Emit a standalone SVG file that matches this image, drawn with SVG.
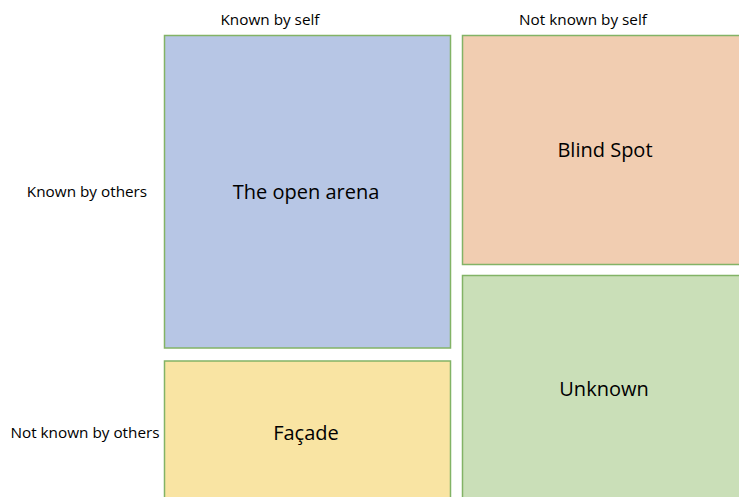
<svg xmlns="http://www.w3.org/2000/svg" width="739" height="497" viewBox="0 0 739 497">
<style>
.q{stroke:#82b366;stroke-width:1.5}
.h{font-family:"Open Sans","Liberation Sans",Arial,sans-serif;font-size:15.3px;fill:#000;text-anchor:middle;dominant-baseline:central}
.t{font-family:"Open Sans","Liberation Sans",Arial,sans-serif;font-size:20px;fill:#000;text-anchor:middle;dominant-baseline:central}
</style>
<rect width="739" height="497" fill="#fff"/>
<g id="labels">
<text class="h" x="270" y="19">Known by self</text>
<text class="h" x="583" y="19">Not known by self</text>
<text class="h" x="87" y="191">Known by others</text>
<text class="h" x="85" y="432">Not known by others</text>
</g>
<g id="open-arena">
<rect class="q" x="164.5" y="35.5" width="286" height="312.5" fill="#b7c6e5"/>
<text class="t" x="306" y="191">The open arena</text>
</g>
<g id="blind-spot">
<rect class="q" x="462.5" y="35.5" width="280" height="229" fill="#f1cdb1"/>
<text class="t" x="605" y="149">Blind Spot</text>
</g>
<g id="facade">
<rect class="q" x="164.5" y="361" width="286" height="140" fill="#f9e4a3"/>
<text class="t" x="306" y="432">Façade</text>
</g>
<g id="unknown">
<rect class="q" x="462.5" y="275.5" width="280" height="225" fill="#cadfb8"/>
<text class="t" x="604" y="388">Unknown</text>
</g>
<g id="connectors"/>
</svg>
